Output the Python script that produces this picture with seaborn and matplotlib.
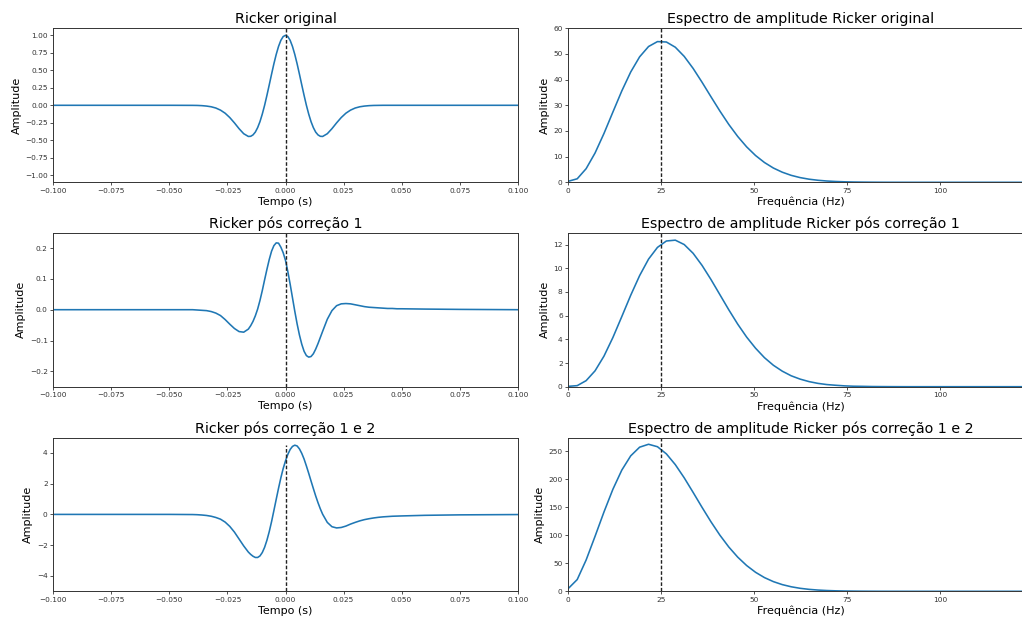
import matplotlib
matplotlib.use("Agg")
import matplotlib.pyplot as plt
import seaborn as sns
import pandas as pd

# ---------------- data ----------------
time_s = [-0.100, -0.060, -0.050,
          -0.040, -0.038, -0.036, -0.034, -0.032, -0.030, -0.028, -0.026, -0.024, -0.022, -0.020, -0.018,
          -0.016, -0.015, -0.014, -0.013, -0.012, -0.011, -0.010, -0.009, -0.008, -0.007, -0.006,
          -0.005, -0.004, -0.003, -0.002, -0.001, 0.000, 0.001, 0.002, 0.003, 0.004, 0.005,
          0.006, 0.007, 0.008, 0.009, 0.010, 0.011, 0.012, 0.013, 0.014, 0.015, 0.016,
          0.018, 0.020, 0.022, 0.024, 0.026, 0.028, 0.030, 0.032, 0.034, 0.036, 0.038, 0.040,
          0.042, 0.044, 0.046, 0.048, 0.050,
          0.060, 0.075, 0.100]

ricker_original = [0.0, 0.0, 0.0,
                   -0.001, -0.002, -0.005, -0.011, -0.021, -0.039, -0.069, -0.113, -0.175, -0.251, -0.334, -0.406,
                   -0.445, -0.443, -0.423, -0.383, -0.319, -0.234, -0.126, 0.000, 0.142, 0.292, 0.445,
                   0.593, 0.727, 0.841, 0.928, 0.982, 1.000, 0.982, 0.928, 0.841, 0.727, 0.593,
                   0.445, 0.292, 0.142, 0.000, -0.126, -0.234, -0.319, -0.383, -0.423, -0.443, -0.445,
                   -0.406, -0.334, -0.251, -0.175, -0.113, -0.069, -0.039, -0.021, -0.011, -0.005, -0.002, -0.001,
                   0.0, 0.0, 0.0, 0.0, 0.0,
                   0.0, 0.0, 0.0]

ricker_corr1 = [0.0, 0.0, 0.0,
                0.000, -0.001, -0.002, -0.003, -0.006, -0.011, -0.019, -0.032, -0.047, -0.061, -0.071, -0.073,
                -0.063, -0.052, -0.038, -0.020, 0.002, 0.030, 0.062, 0.097, 0.131, 0.163, 0.190,
                0.208, 0.217, 0.216, 0.203, 0.185, 0.160, 0.124, 0.083, 0.039, -0.005, -0.046,
                -0.082, -0.112, -0.135, -0.149, -0.154, -0.152, -0.143, -0.128, -0.110, -0.090, -0.070,
                -0.031, -0.003, 0.013, 0.019, 0.020, 0.019, 0.016, 0.013, 0.010, 0.008, 0.007, 0.006,
                0.005, 0.004, 0.004, 0.003, 0.003,
                0.002, 0.001, 0.000]

ricker_corr12 = [0.0, 0.0, 0.0,
                 -0.01, -0.02, -0.04, -0.07, -0.12, -0.20, -0.31, -0.50, -0.78, -1.15, -1.60, -2.05,
                 -2.45, -2.60, -2.72, -2.80, -2.80, -2.70, -2.48, -2.14, -1.68, -1.12, -0.47,
                 0.25, 0.98, 1.70, 2.38, 2.98, 3.48, 3.90, 4.22, 4.42, 4.50, 4.45,
                 4.26, 3.97, 3.60, 3.15, 2.67, 2.17, 1.68, 1.20, 0.76, 0.36, 0.01,
                 -0.52, -0.80, -0.88, -0.85, -0.76, -0.63, -0.52, -0.42, -0.34, -0.28, -0.23, -0.19,
                 -0.16, -0.14, -0.12, -0.11, -0.10,
                 -0.06, -0.03, -0.01]

freq_hz = [0.0, 2.4, 4.8, 7.2, 9.6, 12.0, 14.4, 16.8, 19.2, 21.6, 24.0, 26.4, 28.8, 31.2, 33.6,
           36.0, 38.4, 40.8, 43.2, 45.6, 48.0, 50.4, 52.8, 55.2, 57.6, 60.0, 62.4, 64.8, 67.2,
           69.6, 72.0, 74.4, 76.8, 79.2, 81.6, 84.0, 86.4, 88.8, 91.2, 93.6, 96.0, 98.4, 100.8,
           103.2, 105.6, 108.0, 110.4, 112.8, 115.2, 117.6, 120.0, 122.4, 124.8]

spec_original = [0.4, 1.37, 5.31, 11.41, 19.02, 27.36, 35.60, 42.98, 48.89, 52.90, 54.82, 54.66, 52.63,
                 49.05, 44.36, 38.98, 33.33, 27.77, 22.54, 17.86, 13.81, 10.44, 7.71, 5.56, 3.93,
                 2.71, 1.83, 1.21, 0.79, 0.50, 0.31, 0.19, 0.11, 0.07, 0.04, 0.02, 0.01, 0.006, 0.003,
                 0, 0, 0, 0, 0, 0, 0, 0, 0, 0, 0, 0, 0, 0]

spec_corr1 = [0.03, 0.09, 0.51, 1.34, 2.58, 4.15, 5.92, 7.72, 9.38, 10.77, 11.76, 12.30, 12.37,
              12.00, 11.26, 10.24, 9.05, 7.77, 6.49, 5.28, 4.19, 3.25, 2.45, 1.81, 1.31,
              0.92, 0.64, 0.43, 0.28, 0.18, 0.12, 0.07, 0.04, 0.03, 0.015, 0.009, 0.005, 0.002, 0,
              0, 0, 0, 0, 0, 0, 0, 0, 0, 0, 0, 0, 0, 0]

spec_corr12 = [5.0, 21.0, 56.0, 98.3, 141.8, 182.4, 216.7, 242.2, 257.7, 262.9, 258.5, 245.7, 226.5,
               202.9, 176.8, 150.1, 124.3, 100.4, 79.2, 61.1, 46.1, 34.0, 24.5, 17.3, 11.95,
               8.09, 5.36, 3.48, 2.21, 1.38, 0.84, 0.51, 0.30, 0.17, 0.10, 0.05, 0.03, 0.02, 0.01,
               0, 0, 0, 0, 0, 0, 0, 0, 0, 0, 0, 0, 0, 0]

time_titles = ["Ricker original", "Ricker pós correção 1", "Ricker pós correção 1 e 2"]
spec_titles = ["Espectro de amplitude Ricker original",
               "Espectro de amplitude Ricker pós correção 1",
               "Espectro de amplitude Ricker pós correção 1 e 2"]
time_xticks = [-0.100, -0.075, -0.050, -0.025, 0.000, 0.025, 0.050, 0.075, 0.100]
time_yticks = [[-1.00, -0.75, -0.50, -0.25, 0.00, 0.25, 0.50, 0.75, 1.00],
               [-0.2, -0.1, 0.0, 0.1, 0.2],
               [-4, -2, 0, 2, 4]]
time_ylims = [(-1.1, 1.1), (-0.25, 0.25), (-5, 5)]
spec_xticks = [0, 25, 50, 75, 100]
spec_yticks = [[0, 10, 20, 30, 40, 50, 60],
               [0, 2, 4, 6, 8, 10, 12],
               [0, 50, 100, 150, 200, 250]]
spec_ylims = [(0, 60), (0, 13), (0, 275)]

# ---------------- figure ----------------
W, H = 1022, 621
fig = plt.figure(figsize=(W / 100, H / 100), dpi=100)
rows = [(28.3, 182.3), (232.7, 386.7), (437.5, 591.3)]
left_x, right_x, ax_w = 53.3, 568.3, 464.4

TICK_FS, LABEL_FS, TITLE_FS = 5.3, 8.0, 10.3
LINE_C = "#1f77b4"
DASH = (0, (2.6, 1.4))

def make_ax(x0, top, bot):
    ax = fig.add_axes([x0 / W, 1 - bot / H, ax_w / W, (bot - top) / H])
    for s in ax.spines.values():
        s.set_linewidth(0.7)
        s.set_color("#333333")
    ax.tick_params(labelsize=TICK_FS, length=2.2, width=0.6, pad=1.8, colors="#333333")
    return ax

time_series = [ricker_original, ricker_corr1, ricker_corr12]
spec_series = [spec_original, spec_corr1, spec_corr12]

for i, (top, bot) in enumerate(rows):
    # time domain
    ax = make_ax(left_x, top, bot)
    df = pd.DataFrame({"t": time_s, "a": time_series[i]})
    sns.lineplot(data=df, x="t", y="a", ax=ax, color=LINE_C, linewidth=1.15,
                 errorbar=None, sort=False)
    ax.set_xlim(-0.1, 0.1)
    ax.set_ylim(*time_ylims[i])
    ax.set_xticks(time_xticks)
    ax.set_yticks(time_yticks[i])
    if i == 0:
        ax.set_yticklabels([f"{v:.2f}".replace("-", "\u2212") for v in time_yticks[i]])
    if i == 2:
        ax.vlines(0, -5, 4.5, colors="#222222", linestyles=DASH, linewidth=1.0)
    else:
        ax.axvline(0, color="#222222", linestyle=DASH, linewidth=1.0)
    ax.set_title(time_titles[i], fontsize=TITLE_FS, pad=3.5)
    ax.set_xlabel("Tempo (s)", fontsize=LABEL_FS, labelpad=2.0)
    ax.set_ylabel("Amplitude", fontsize=LABEL_FS, labelpad=2.5)

    # spectrum
    ax2 = make_ax(right_x, top, bot)
    df2 = pd.DataFrame({"f": freq_hz, "a": spec_series[i]})
    sns.lineplot(data=df2, x="f", y="a", ax=ax2, color=LINE_C, linewidth=1.15,
                 errorbar=None, sort=False)
    ax2.set_xlim(0, 125)
    ax2.set_ylim(*spec_ylims[i])
    ax2.set_xticks(spec_xticks)
    ax2.set_yticks(spec_yticks[i])
    ax2.axvline(25, color="#222222", linestyle=DASH, linewidth=1.0)
    ax2.set_title(spec_titles[i], fontsize=TITLE_FS, pad=3.5)
    ax2.set_xlabel("Frequência (Hz)", fontsize=LABEL_FS, labelpad=2.0)
    ax2.set_ylabel("Amplitude", fontsize=LABEL_FS, labelpad=2.5)

fig.savefig("out.png", dpi=100)
